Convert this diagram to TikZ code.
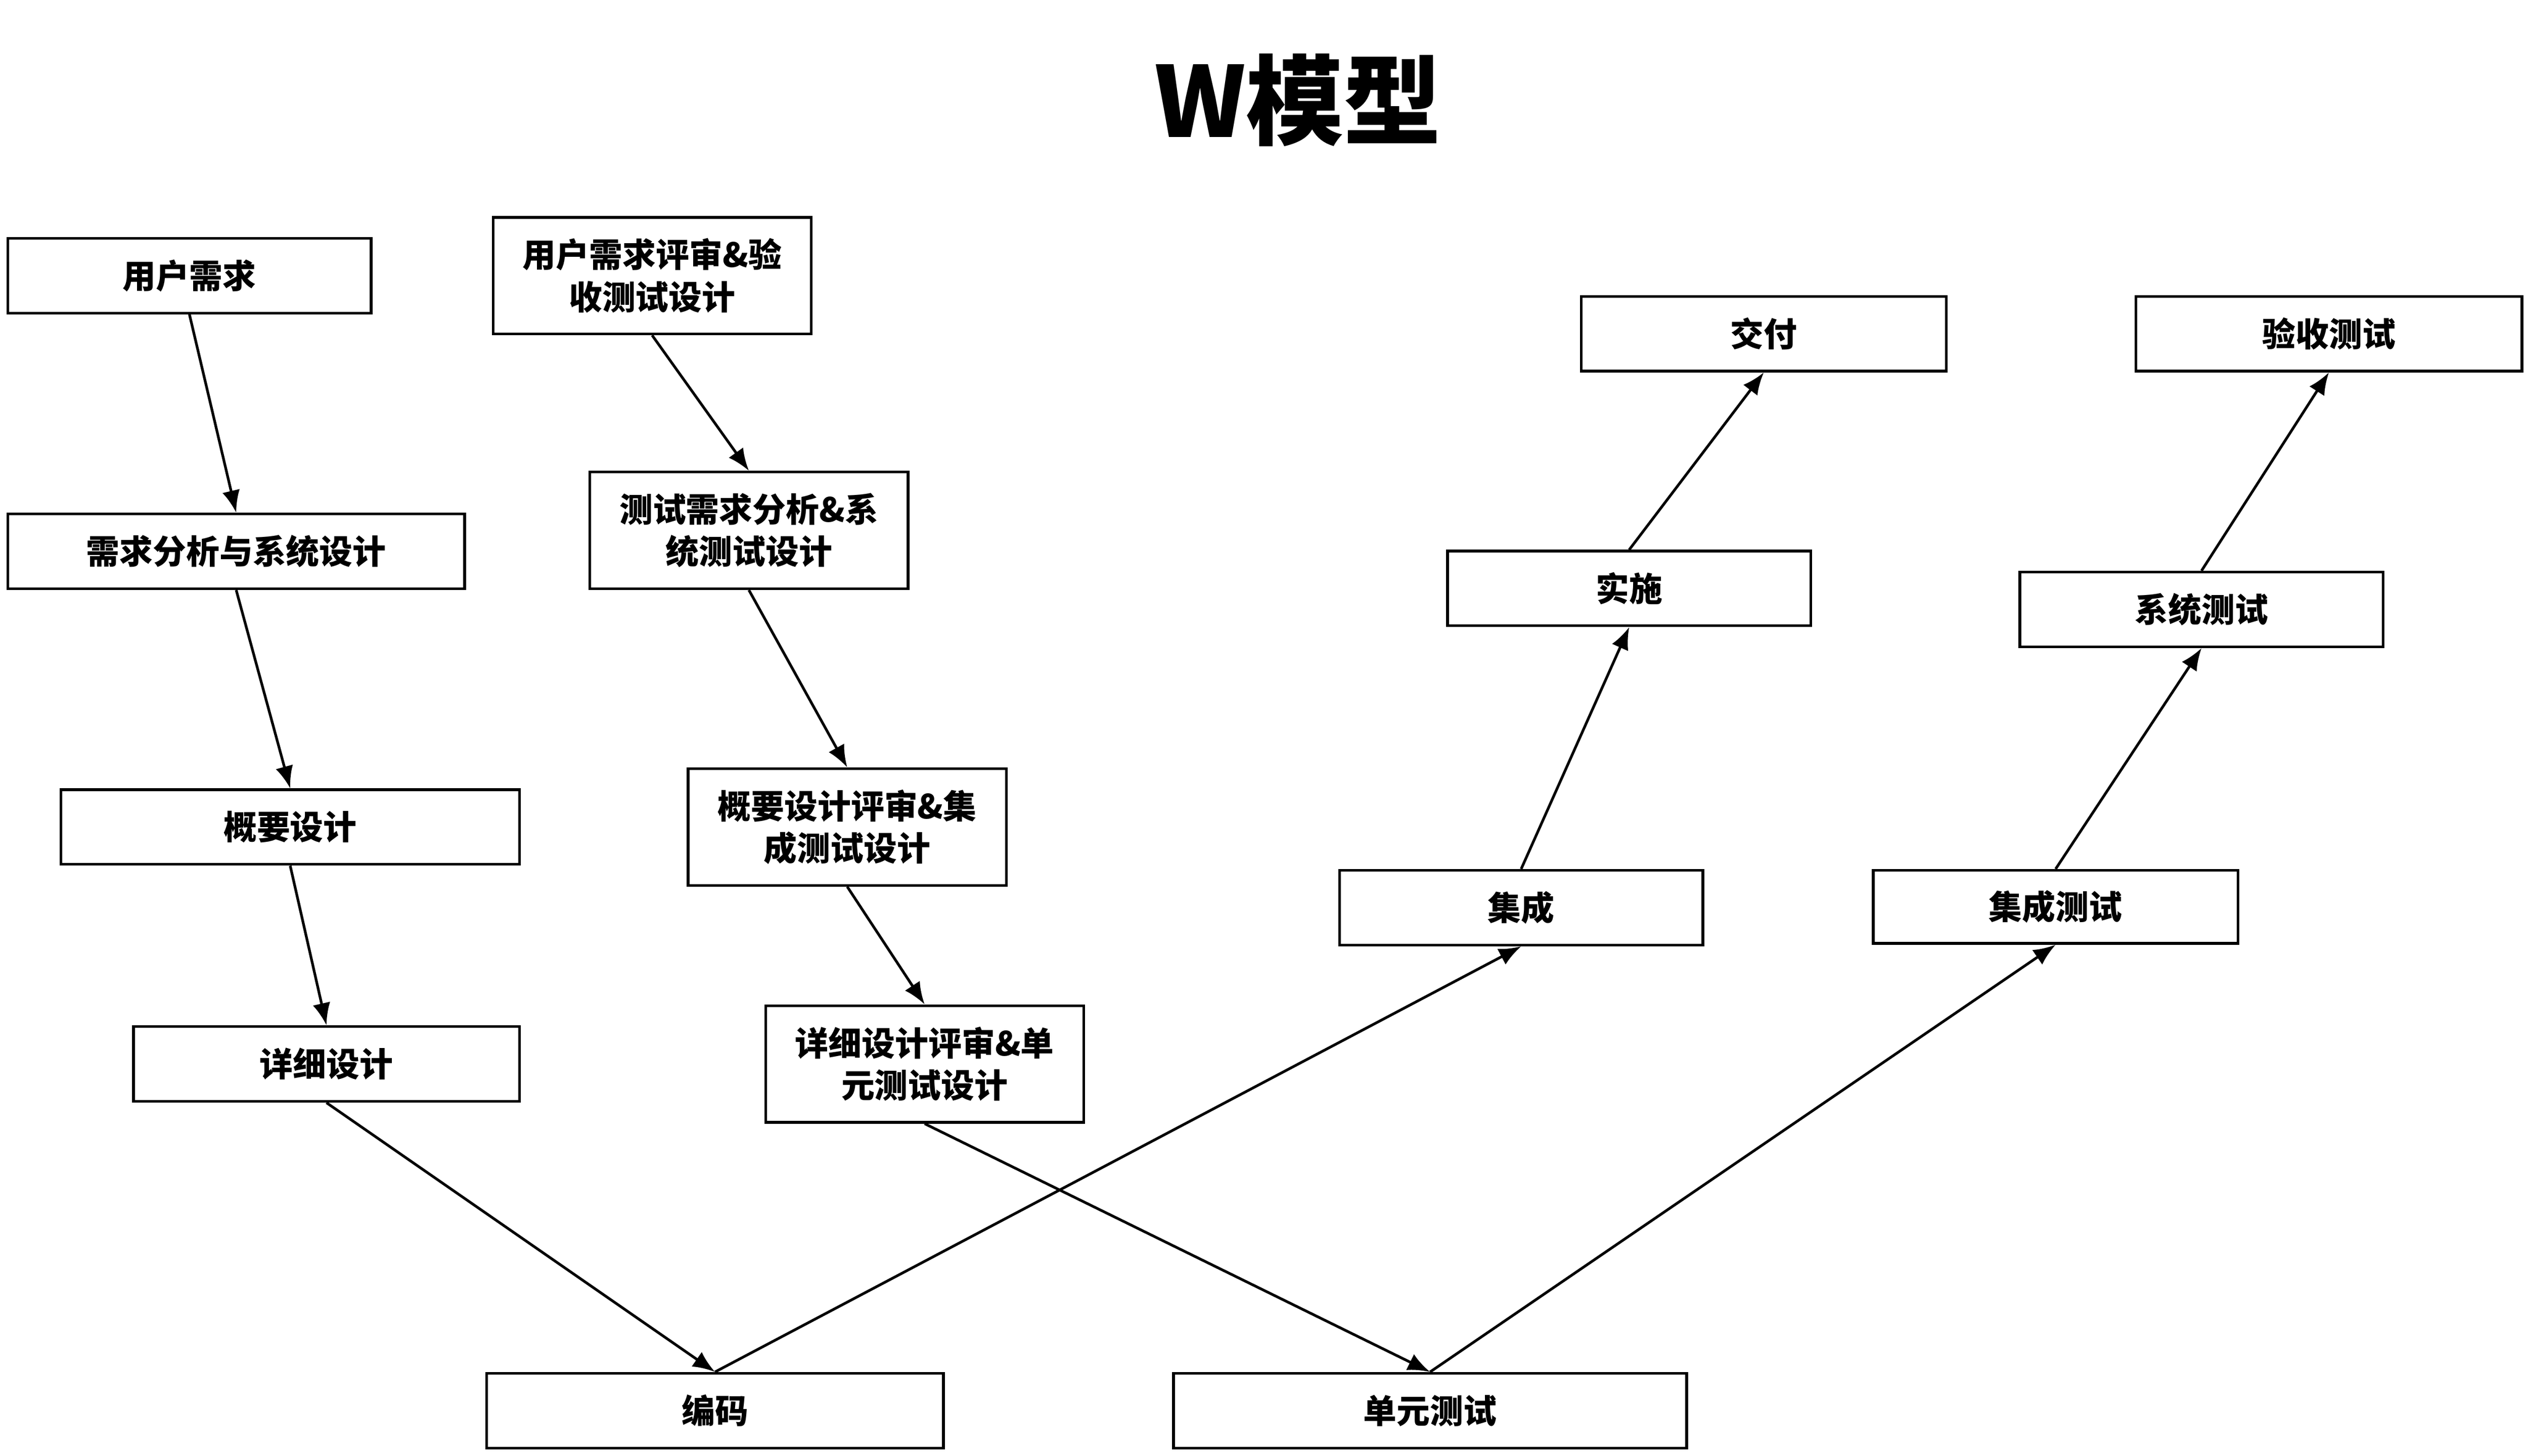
\documentclass[tikz,border=0pt]{standalone}
\usepackage{fontspec}
\setmainfont{Liberation Serif}
\newfontfamily\cjk{Noto Sans CJK SC}
\usetikzlibrary{arrows.meta}
\begin{document}
\begin{tikzpicture}[x=0.012755cm,y=-0.012755cm,
  box/.style={draw,line width=0.6pt,inner sep=0,font=\cjk\bfseries\fontsize{7.5}{9.5}\selectfont,align=center},
  arr/.style={-{Latex[length=5pt,width=4pt]},line width=0.6pt}]
\path[use as bounding box] (0,0) rectangle (1568,903);
\node[font=\cjk\bfseries\fontsize{22}{24}\selectfont] (t) at (805,62) {W模型};
\newcommand{\bx}[6]{\node[box,minimum width=#4*0.012755cm-0.6pt,minimum height=#5*0.012755cm-0.6pt] (#1) at (#2,#3) {#6};}
\bx{a1}{117.5}{171}{227}{48}{用户需求}
\bx{a2}{146.5}{342}{285}{48}{需求分析与系统设计}
\bx{a3}{180}{513}{286}{48}{概要设计}
\bx{a4}{202.5}{660}{241}{48}{详细设计}
\bx{b1}{404.5}{171}{199}{74}{用户需求评审\&验\\收测试设计}
\bx{b2}{464.5}{329}{199}{74}{测试需求分析\&系\\统测试设计}
\bx{b3}{525.5}{513}{199}{74}{概要设计评审\&集\\成测试设计}
\bx{b4}{573.5}{660}{199}{74}{详细设计评审\&单\\元测试设计}
\bx{c1}{443.5}{875}{285}{48}{编码}
\bx{c2}{887}{875}{320}{48}{单元测试}
\bx{d1}{943.5}{563}{227}{48}{集成}
\bx{d2}{1010.5}{365}{227}{48}{实施}
\bx{d3}{1094}{207}{228}{48}{交付}
\bx{e1}{1275}{562.5}{228}{47}{集成测试}
\bx{e2}{1365.5}{378}{227}{48}{系统测试}
\bx{e3}{1444.5}{207}{241}{48}{验收测试}
\draw[arr] (a1.south) -- (a2.north);
\draw[arr] (a2.south) -- (a3.north);
\draw[arr] (a3.south) -- (a4.north);
\draw[arr] (a4.south) -- (c1.north);
\draw[arr] (c1.north) -- (d1.south);
\draw[arr] (d1.north) -- (d2.south);
\draw[arr] (d2.north) -- (d3.south);
\draw[arr] (b1.south) -- (b2.north);
\draw[arr] (b2.south) -- (b3.north);
\draw[arr] (b3.south) -- (b4.north);
\draw[arr] (b4.south) -- (c2.north);
\draw[arr] (c2.north) -- (e1.south);
\draw[arr] (e1.north) -- (e2.south);
\draw[arr] (e2.north) -- (e3.south);
\end{tikzpicture}
\end{document}
